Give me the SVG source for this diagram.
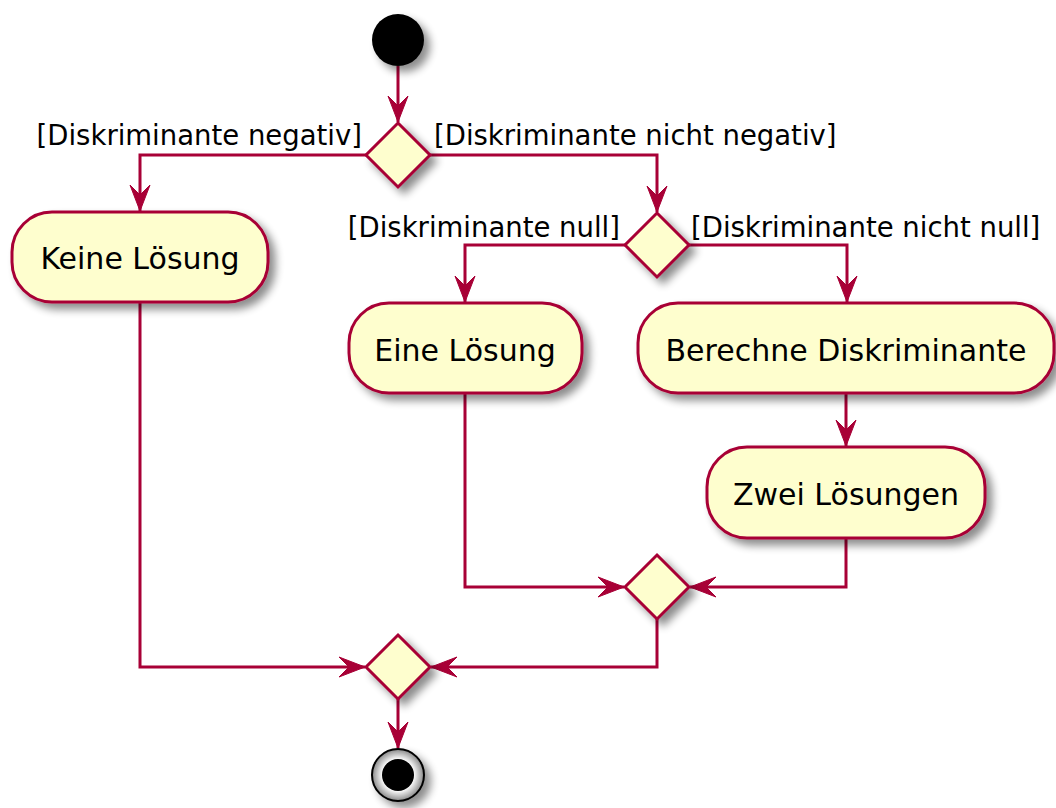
<svg xmlns="http://www.w3.org/2000/svg" width="1056" height="808" viewBox="0 0 1056 808">
<style>
.act{fill:#FEFECE;stroke:#A80036;stroke-width:3;filter:url(#sh)}
.dia{fill:#FEFECE;stroke:#A80036;stroke-width:3;filter:url(#sh)}
.con{fill:none;stroke:#A80036;stroke-width:3;marker-end:url(#arr)}
.t{font-family:"DejaVu Sans",sans-serif;font-size:30px;fill:#000;text-anchor:middle}
.lbl{font-family:"DejaVu Sans",sans-serif;font-size:27.5px;fill:#000}
</style>
<defs>
<filter id="sh" x="-30%" y="-30%" width="170%" height="170%">
<feGaussianBlur in="SourceAlpha" stdDeviation="4"/>
<feOffset dx="6" dy="6" result="b"/>
<feComponentTransfer><feFuncA type="linear" slope="0.45"/></feComponentTransfer>
<feMerge><feMergeNode/><feMergeNode in="SourceGraphic"/></feMerge>
</filter>
<radialGradient id="ring" cx="50%" cy="50%" r="50%">
<stop offset="0.6" stop-color="#ffffff"/>
<stop offset="1" stop-color="#888888"/>
</radialGradient>
<marker id="arr" viewBox="-28 -12 30 24" refX="0" refY="0" markerWidth="30" markerHeight="24" orient="auto" markerUnits="userSpaceOnUse">
<path d="M0,0 L-26,-10 L-16,0 L-26,10 Z" fill="#A80036" stroke="#A80036" stroke-width="1"/>
</marker>
</defs>
<g id="connectors">
<path class="con" d="M398,66 V122"/>
<path class="con" d="M366,155 H140 V211"/>
<path class="con" d="M430,155 H657 V212"/>
<path class="con" d="M625,245 H465 V302"/>
<path class="con" d="M689,245 H847 V302"/>
<path class="con" d="M846,393 V446"/>
<path class="con" d="M465,393 V587 H624"/>
<path class="con" d="M846,538 V587 H690"/>
<path class="con" d="M657,619 V667 H431"/>
<path class="con" d="M140,302 V667 H365"/>
<path class="con" d="M398,699 V748"/>
</g>
<g id="start"><circle cx="398" cy="40" r="26" fill="#000" filter="url(#sh)"/></g>
<g id="d1">
<polygon class="dia" points="398,123 430,155 398,187 366,155"/>
<text class="lbl" x="362" y="145" text-anchor="end">[Diskriminante negativ]</text>
<text class="lbl" x="434" y="145">[Diskriminante nicht negativ]</text>
</g>
<g id="keine">
<rect class="act" x="12" y="212" width="256" height="90" rx="40"/>
<text class="t" x="140" y="269">Keine Lösung</text>
</g>
<g id="d2">
<polygon class="dia" points="657,213 689,245 657,277 625,245"/>
<text class="lbl" x="620" y="237" text-anchor="end">[Diskriminante null]</text>
<text class="lbl" x="691" y="237">[Diskriminante nicht null]</text>
</g>
<g id="eine">
<rect class="act" x="349" y="303" width="233" height="90" rx="40"/>
<text class="t" x="465" y="361">Eine Lösung</text>
</g>
<g id="berechne">
<rect class="act" x="638" y="303" width="416" height="90" rx="40"/>
<text class="t" x="846" y="361">Berechne Diskriminante</text>
</g>
<g id="zwei">
<rect class="act" x="707" y="447" width="278" height="91" rx="40"/>
<text class="t" x="846" y="505">Zwei Lösungen</text>
</g>
<g id="d3"><polygon class="dia" points="657,555 689,587 657,619 625,587"/></g>
<g id="d4"><polygon class="dia" points="398,635 430,667 398,699 366,667"/></g>
<g id="end">
<circle cx="398" cy="775" r="26" fill="url(#ring)" stroke="#000" stroke-width="2" filter="url(#sh)"/>
<circle cx="398" cy="775" r="16" fill="#000"/>
</g>
</svg>
